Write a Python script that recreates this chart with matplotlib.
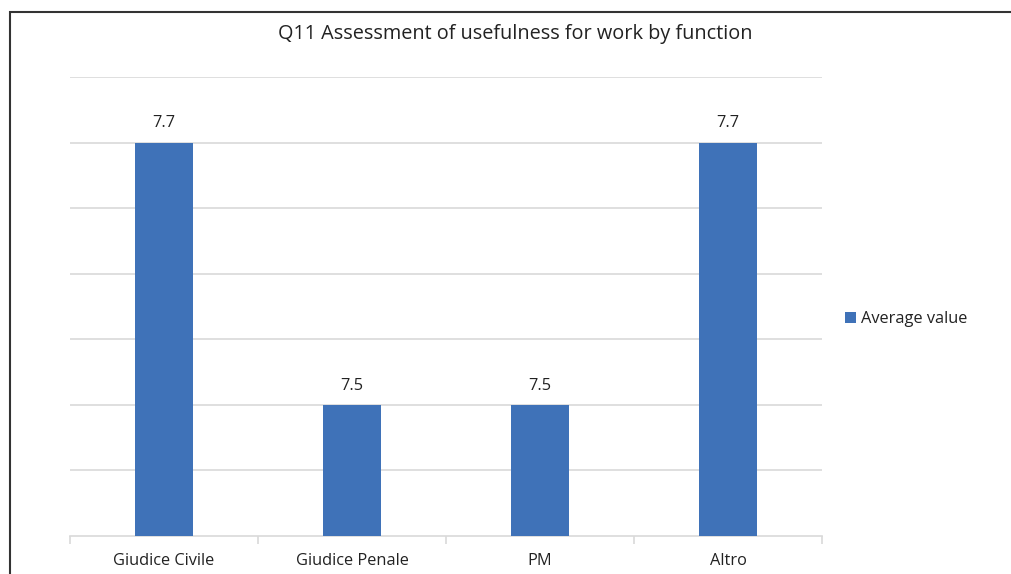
import matplotlib.pyplot as plt
from matplotlib.patches import Rectangle
import numpy as np

plt.rcParams['font.family'] = ['Open Sans', 'DejaVu Sans']

# data
categories = ['Giudice Civile', 'Giudice Penale', 'PM', 'Altro']
avg_values = [7.7, 7.5, 7.5, 7.7]
series_name = 'Average value'
title = 'Q11 Assessment of usefulness for work by function'

barColor = '#3f72b8'
gridColor = '#d9d9d9'
textColor = '#222222'

fig = plt.figure(figsize=(10.12, 5.74), dpi=100)
ax = fig.add_axes([70/1012, 1-536/574, 752/1012, 459/574])

# outer frame (partially cropped in the reference)
fig.patches.append(Rectangle((10/1012, -0.1), 1.2, 1-12/574+0.1,
                             transform=fig.transFigure, fill=False,
                             edgecolor='#333333', linewidth=1.5))

x = np.arange(len(categories))
bars = ax.bar(x, avg_values, width=0.31, color=barColor, label=series_name, zorder=3)

ax.set_xlim(-0.5, len(categories)-0.5)
ax.set_ylim(7.4, 7.75)
ax.set_yticks(np.arange(7.45, 7.76, 0.05))
ax.yaxis.grid(True, color=gridColor, linewidth=1.2, zorder=0)
ax.tick_params(axis='y', left=False, labelleft=False)

ax.set_xticks(x)
ax.set_xticklabels(categories, fontsize=11.8, color=textColor)
ax.set_xticks(np.arange(-0.5, len(categories)), minor=True)
ax.tick_params(axis='x', which='major', length=0, pad=12)
ax.tick_params(axis='x', which='minor', length=6, color=gridColor, width=1.2)

for s in ['top', 'right', 'left']:
    ax.spines[s].set_visible(False)
ax.spines['bottom'].set_color(gridColor)
ax.spines['bottom'].set_linewidth(1.2)

for b, v in zip(bars, avg_values):
    ax.annotate('%.1f' % v, (b.get_x()+b.get_width()/2, v), xytext=(0, 8),
                textcoords='offset points', ha='center', va='bottom',
                fontsize=11.8, color=textColor)

fig.text(515/1012, 1-34/574, title, ha='center', va='center', fontsize=14.3, color=textColor)

fig.legend(handles=[bars], labels=[series_name], loc='center left',
           bbox_to_anchor=(830/1012, 1-319/574), frameon=False, fontsize=11.8,
           handlelength=0.7, handleheight=0.7, handletextpad=0.3,
           labelcolor=textColor)

fig.savefig('out.png', dpi=100)
